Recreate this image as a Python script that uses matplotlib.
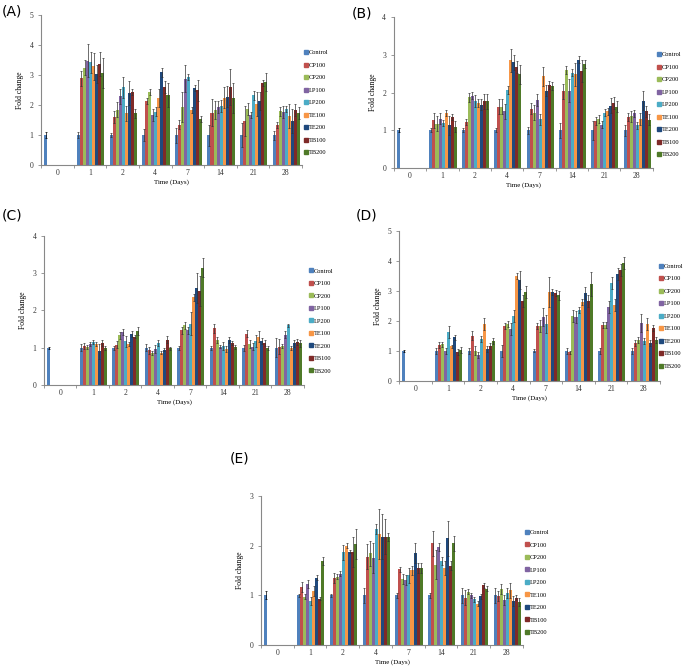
import numpy as np
import matplotlib.pyplot as plt
from matplotlib.lines import Line2D

# groups / series
days = ['0', '1', '2', '4', '7', '14', '21', '28']
series = ['Control', 'CP100', 'CP200', 'LP100', 'LP200', 'TE100', 'TE200', 'TB100', 'TB200']
colors = ['#4F81BD', '#C0504D', '#9BBB59', '#8064A2', '#4BACC6',
          '#F79646', '#1F497D', '#7F2A28', '#4F7A28']

# fold change, rows = days 1..28 (day 0 is control only = 1.0)
vals_a = [[1.0, 2.90, 3.25, 3.48, 3.42, 3.30, 3.02, 3.38, 3.08],
          [1.0, 1.60, 1.85, 2.30, 2.60, 1.72, 2.40, 2.42, 1.72],
          [1.0, 2.15, 2.45, 1.68, 1.78, 2.25, 3.10, 2.60, 2.35],
          [1.0, 1.35, 1.92, 2.88, 2.93, 1.85, 2.58, 2.50, 1.55],
          [1.0, 1.75, 1.85, 1.93, 1.98, 2.25, 2.27, 2.60, 2.22],
          [1.0, 1.47, 1.87, 1.67, 2.32, 2.05, 2.12, 2.73, 2.78],
          [1.0, 1.32, 1.80, 1.78, 1.87, 1.63, 1.47, 1.85, 1.75]]
err_a = [[0.10, 0.25, 0.25, 0.55, 0.35, 0.45, 0.30, 0.40, 0.50],
         [0.08, 0.20, 0.25, 0.25, 0.35, 0.25, 0.40, 0.10, 0.15],
         [0.20, 0.10, 0.10, 0.20, 0.15, 0.30, 0.15, 0.20, 0.40],
         [0.25, 0.15, 0.50, 0.45, 0.10, 0.10, 0.10, 0.35, 0.10],
         [0.35, 0.45, 0.30, 0.20, 0.20, 0.35, 0.35, 0.60, 0.50],
         [0.40, 0.50, 0.20, 0.10, 0.15, 0.40, 0.30, 0.10, 0.30],
         [0.15, 0.10, 0.15, 0.20, 0.10, 0.40, 0.40, 0.20, 0.20]]

vals_b = [[1.0, 1.26, 1.17, 1.31, 1.20, 1.46, 1.13, 1.36, 1.10],
          [1.0, 1.23, 1.87, 1.92, 1.78, 1.72, 1.68, 1.77, 1.77],
          [1.0, 1.62, 1.63, 1.50, 2.07, 2.85, 2.80, 2.68, 2.48],
          [1.0, 1.57, 1.47, 1.80, 1.29, 2.43, 2.05, 2.20, 2.17],
          [1.0, 2.03, 2.60, 2.05, 2.53, 2.48, 2.87, 2.57, 2.75],
          [1.0, 1.24, 1.30, 1.15, 1.47, 1.50, 1.65, 1.72, 1.63],
          [1.0, 1.35, 1.37, 1.45, 1.13, 1.30, 1.78, 1.50, 1.28]]
err_b = [[0.05, 0.20, 0.20, 0.15, 0.08, 0.08, 0.25, 0.08, 0.15],
         [0.05, 0.08, 0.12, 0.10, 0.15, 0.10, 0.15, 0.20, 0.20],
         [0.05, 0.20, 0.20, 0.20, 0.10, 0.30, 0.20, 0.15, 0.25],
         [0.10, 0.15, 0.20, 0.15, 0.15, 0.25, 0.15, 0.10, 0.10],
         [0.20, 0.20, 0.10, 0.30, 0.10, 0.30, 0.10, 0.30, 0.10],
         [0.25, 0.10, 0.10, 0.10, 0.10, 0.10, 0.20, 0.15, 0.15],
         [0.15, 0.10, 0.15, 0.10, 0.10, 0.15, 0.25, 0.15, 0.15]]

vals_c = [[1.0, 1.05, 1.02, 1.10, 1.15, 1.10, 0.90, 1.13, 1.00],
          [1.0, 1.08, 1.33, 1.43, 1.17, 1.10, 1.38, 1.30, 1.45],
          [1.0, 0.93, 0.85, 0.97, 1.13, 0.87, 0.95, 1.22, 0.98],
          [1.0, 1.47, 1.60, 1.47, 1.65, 2.35, 2.60, 2.52, 3.15],
          [1.0, 1.52, 1.22, 1.03, 1.05, 0.97, 1.22, 1.13, 1.02],
          [1.0, 1.38, 1.10, 1.03, 1.18, 1.30, 1.17, 1.12, 1.00],
          [1.0, 1.03, 1.05, 1.35, 1.60, 1.00, 1.12, 1.15, 1.12]]
err_c = [[0.10, 0.08, 0.05, 0.05, 0.05, 0.05, 0.20, 0.08, 0.05],
         [0.05, 0.10, 0.10, 0.08, 0.15, 0.05, 0.08, 0.05, 0.10],
         [0.10, 0.10, 0.05, 0.10, 0.08, 0.05, 0.05, 0.10, 0.05],
         [0.05, 0.10, 0.10, 0.10, 0.30, 0.10, 0.40, 0.40, 0.25],
         [0.05, 0.12, 0.08, 0.05, 0.10, 0.08, 0.08, 0.05, 0.05],
         [0.08, 0.10, 0.10, 0.10, 0.15, 0.15, 0.08, 0.08, 0.05],
         [0.25, 0.20, 0.05, 0.10, 0.05, 0.05, 0.10, 0.08, 0.10]]

vals_d = [[1.0, 1.20, 1.22, 1.00, 1.62, 1.15, 1.45, 0.95, 1.02],
          [1.0, 1.50, 1.00, 0.88, 1.40, 1.90, 1.05, 1.15, 1.33],
          [1.0, 1.82, 1.90, 1.72, 2.17, 3.50, 3.35, 2.68, 2.97],
          [1.0, 1.82, 1.82, 2.12, 1.90, 2.95, 2.97, 2.93, 2.85],
          [1.0, 0.95, 2.15, 2.13, 2.35, 2.63, 2.93, 2.68, 3.22],
          [1.0, 1.85, 1.87, 2.47, 3.25, 2.53, 3.57, 3.70, 3.93],
          [1.0, 1.25, 1.37, 1.93, 1.33, 1.90, 1.28, 1.75, 1.37]]
err_d = [[0.10, 0.10, 0.08, 0.10, 0.20, 0.05, 0.08, 0.10, 0.10],
         [0.10, 0.15, 0.15, 0.10, 0.10, 0.20, 0.10, 0.10, 0.10],
         [0.20, 0.10, 0.10, 0.20, 0.20, 0.10, 0.30, 0.20, 0.20],
         [0.05, 0.10, 0.20, 0.30, 0.30, 0.50, 0.10, 0.10, 0.15],
         [0.10, 0.05, 0.20, 0.20, 0.10, 0.10, 0.20, 0.20, 0.40],
         [0.10, 0.10, 0.10, 0.20, 0.20, 0.20, 0.20, 0.20, 0.20],
         [0.10, 0.10, 0.10, 0.30, 0.10, 0.20, 0.10, 0.10, 0.10]]

vals_e = [[1.0, 1.17, 0.97, 1.22, 0.88, 1.08, 1.35, 0.93, 1.70],
          [1.0, 1.34, 1.37, 1.43, 1.87, 2.00, 1.88, 1.88, 2.03],
          [1.0, 1.78, 1.85, 1.75, 2.33, 2.23, 2.18, 2.18, 2.18],
          [1.0, 1.52, 1.32, 1.30, 1.40, 1.50, 1.85, 1.55, 1.55],
          [1.0, 2.05, 1.62, 1.97, 1.70, 1.55, 2.15, 1.60, 2.05],
          [1.0, 0.95, 1.07, 1.00, 0.92, 0.83, 0.98, 1.20, 1.13],
          [1.0, 0.98, 1.12, 0.90, 1.05, 1.10, 0.88, 0.95, 0.87]]
err_e = [[0.03, 0.10, 0.05, 0.08, 0.08, 0.10, 0.05, 0.03, 0.08],
         [0.03, 0.10, 0.05, 0.05, 0.15, 0.05, 0.03, 0.30, 0.30],
         [0.15, 0.25, 0.25, 0.30, 0.10, 0.50, 0.45, 0.35, 0.08],
         [0.05, 0.05, 0.10, 0.10, 0.15, 0.10, 0.20, 0.10, 0.10],
         [0.05, 0.25, 0.30, 0.08, 0.08, 0.15, 0.35, 0.10, 0.15],
         [0.15, 0.15, 0.05, 0.05, 0.05, 0.05, 0.05, 0.05, 0.05],
         [0.15, 0.10, 0.10, 0.10, 0.10, 0.15, 0.10, 0.05, 0.08]]
day0_err = [0.10, 0.05, 0.03, 0.03, 0.08]

panels = [('(A)', vals_a, err_a, 5, [0.0599, 0.7526, 0.3811, 0.2249], (0.443, 0.925)),
          ('(B)', vals_b, err_b, 4, [0.575, 0.748, 0.378, 0.2265], (0.958, 0.922)),
          ('(C)', vals_c, err_c, 4, [0.0642, 0.4228, 0.3796, 0.2234], (0.450, 0.598)),
          ('(D)', vals_d, err_d, 5, [0.5825, 0.4288, 0.381, 0.2249], (0.961, 0.605)),
          ('(E)', vals_e, err_e, 3, [0.381, 0.033, 0.3825, 0.2234], (0.766, 0.206))]
tag_pos = [(0.002, 0.993), (0.513, 0.99), (0.002, 0.687), (0.52, 0.687), (0.336, 0.323)]

serif = 'Liberation Serif'
fig = plt.figure(figsize=(6.85, 6.67), dpi=100)

bw = 0.093
for k, (tag, vals, errs, ymax, rect, leg_xy) in enumerate(panels):
    ax = fig.add_axes(rect)
    # day 0: control only
    ax.bar(0.1 + bw / 2, 1.0, bw, color=colors[0], zorder=2)
    ax.errorbar(0.1 + bw / 2, 1.0, yerr=day0_err[k], fmt='none', ecolor='k',
                elinewidth=0.5, capsize=1, capthick=0.5, zorder=3)
    v = np.array(vals)
    e = np.array(errs)
    for j in range(len(series)):
        xs = np.arange(1, len(days)) + 0.1 + bw / 2 + j * bw
        ax.bar(xs, v[:, j], bw, color=colors[j], zorder=2)
        ax.errorbar(xs, v[:, j], yerr=e[:, j], fmt='none', ecolor='#333333',
                    elinewidth=0.5, capsize=1, capthick=0.5, zorder=3)
    ax.set_xlim(0, len(days))
    ax.set_ylim(0, ymax)
    ax.set_yticks(range(ymax + 1))
    ax.set_xticks(np.arange(len(days)) + 0.5)
    ax.set_xticklabels(days)
    ax.set_xticks(np.arange(len(days) + 1), minor=True)
    ax.tick_params(axis='x', which='major', length=0, labelsize=5.5, pad=3)
    ax.tick_params(axis='x', which='minor', length=2.5, width=0.6, color='#888888')
    ax.tick_params(axis='y', length=2.5, width=0.6, color='#888888', labelsize=5.5, pad=3)
    for lab in ax.get_xticklabels() + ax.get_yticklabels():
        lab.set_family(serif)
        lab.set_color('#333333')
    for s in ['top', 'right']:
        ax.spines[s].set_visible(False)
    for s in ['left', 'bottom']:
        ax.spines[s].set_color('#888888')
        ax.spines[s].set_linewidth(0.8)
    ax.set_ylabel('Fold change', family=serif, fontsize=5.5, labelpad=4)
    ax.set_xlabel('Time (Days)', family=serif, fontsize=5, labelpad=1.5)
    handles = [Line2D([], [], marker='s', ls='none', color=c, markersize=2.3) for c in colors]
    fig.legend(handles, series, loc='upper left', bbox_to_anchor=leg_xy, frameon=False,
               prop={'family': serif, 'size': 4.6}, handletextpad=0.05, labelspacing=1.1,
               handlelength=0.8, borderpad=0, borderaxespad=0)
    fig.text(tag_pos[k][0], tag_pos[k][1], tag, fontsize=10, va='top', ha='left')

fig.savefig('out.png', dpi=100)
